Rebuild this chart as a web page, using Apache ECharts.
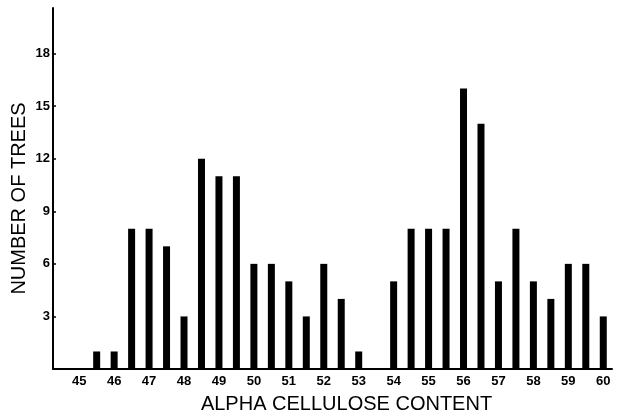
<!DOCTYPE html>
<html>
<head>
<meta charset="utf-8">
<script src="https://cdn.jsdelivr.net/npm/echarts@6/dist/echarts.min.js"></script>
<style>
  html, body { margin: 0; padding: 0; background: #fff; }
  #chart { width: 624px; height: 416px; }
</style>
</head>
<body>
<div id="chart"></div>
<script>
// Alpha cellulose content classes (half-percent steps)
const contentClasses = [
  '44.5', '45', '45.5', '46', '46.5', '47', '47.5', '48', '48.5', '49', '49.5',
  '50', '50.5', '51', '51.5', '52', '52.5', '53', '53.5', '54', '54.5',
  '55', '55.5', '56', '56.5', '57', '57.5', '58', '58.5', '59', '59.5', '60'
];
// Number of trees in each class
const treeCounts = [
  0, 0, 1, 1, 8, 8, 7, 3, 12, 11, 11,
  6, 6, 5, 3, 6, 4, 1, 0, 5, 8,
  8, 8, 16, 14, 5, 8, 5, 4, 6, 6, 3
];
// Y axis tick step and extent
const yTickStep = 3;
const yTop = 20.6;

const chart = echarts.init(document.getElementById('chart'), null, { renderer: 'canvas' });
const ink = '#000';
const tickFont = { color: ink, fontFamily: 'Liberation Sans', fontWeight: 'bold', fontSize: 13 };

chart.setOption({
  animation: false,
  backgroundColor: '#fff',
  grid: { left: 53, right: 12, top: 8, bottom: 47, containLabel: false, outerBoundsMode: 'none' },
  xAxis: {
    type: 'category',
    data: contentClasses,
    boundaryGap: true,
    name: 'ALPHA CELLULOSE CONTENT',
    nameLocation: 'middle',
    nameGap: 25,
    nameTextStyle: { color: ink, fontFamily: 'Liberation Sans', fontSize: 20, padding: [0, 0, 0, 28] },
    axisLine: { lineStyle: { color: ink, width: 2 } },
    axisTick: { show: false },
    axisLabel: Object.assign({
      interval: (i, v) => Number(v) % 1 === 0,
      margin: 6
    }, tickFont),
    splitLine: { show: false }
  },
  yAxis: {
    type: 'value',
    min: 0,
    max: yTop,
    interval: yTickStep,
    name: 'NUMBER OF TREES',
    nameLocation: 'middle',
    nameGap: 24,
    nameMoveOverlap: false,
    nameTextStyle: { color: ink, fontFamily: 'Liberation Sans', fontSize: 20, padding: [0, 20, 0, 0] },
    axisLine: { show: true, lineStyle: { color: ink, width: 2 } },
    axisTick: { show: true, inside: true, length: 3, lineStyle: { color: ink, width: 1.5 } },
    axisLabel: Object.assign({
      margin: 3,
      showMaxLabel: false,
      formatter: v => (v === 0 || v > 18 ? '' : String(v))
    }, tickFont),
    splitLine: { show: false }
  },
  series: [{
    type: 'bar',
    data: treeCounts,
    barWidth: 7,
    itemStyle: { color: ink }
  }]
});
</script>
</body>
</html>
